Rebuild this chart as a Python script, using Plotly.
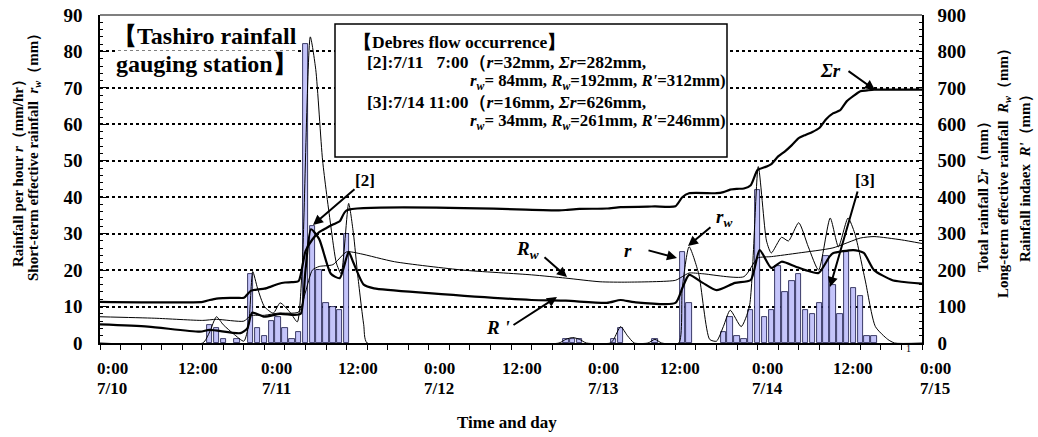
import plotly.graph_objects as go

# ---------------- data ----------------
# hourly rainfall r (mm/hr); x = hours after 7/10 0:00
bar_hours = [16, 17, 18, 20, 22, 23, 24, 25, 26, 27, 28, 29, 30, 31, 32, 33, 34, 35, 36,
             68, 69, 70, 75, 76, 81, 85, 86,
             91, 92, 93, 94, 95, 96, 97, 98, 99, 100, 101, 102, 103, 104, 105, 106, 107,
             108, 109, 110, 111, 112, 113]
bar_vals = [5, 4, 1, 1, 19, 4, 2, 6, 7, 4, 1, 3, 82, 32, 20, 11, 10, 9, 30,
            1, 1, 1, 1, 4, 1, 25, 11,
            3, 7, 2, 1, 9, 42, 7, 9, 21, 14, 17, 19, 9, 8, 11, 24, 16,
            8, 25, 15, 13, 2, 2]

# short-term effective rainfall r_w (left axis, mm)
rw_t = [0, 15, 16, 17, 18, 19.5, 21, 21.7, 22.3, 23, 24, 25.3, 26.3, 27.8, 28.8, 29.5, 30.7,
        31.5, 32.5, 33.7, 34.5, 35.2, 36.3, 37, 37.6, 38.5, 39, 67, 68, 69, 70, 71, 74.5, 75,
        76, 77, 78, 80, 81, 82, 84.5, 85, 86, 87.4, 89, 90, 91, 92, 93.6, 94.8, 96.1, 97.3,
        98, 99.5, 100.5, 102, 103.4, 104.9, 106.6, 107.8, 109.2, 110.2, 111.7, 113.2, 115,
        116, 120]
rw_v = [0, 0, 3, 7.2, 5, 2.5, 0.5, 5, 19.6, 15, 10, 8.2, 11, 8.3, 5.8, 20, 84,
        75, 50, 32, 22, 19, 38.3, 30, 19, 5, 0, 0, 1, 1.5, 1, 0, 0, 1,
        4.5, 2, 0, 0, 1, 0, 0, 15, 26.4, 19, 1, 0.5, 4.5, 9, 4.5, 10, 48.4, 28,
        24.7, 29, 28, 33, 26.4, 20, 34.3, 26.4, 34.3, 30, 17.3, 4.5, 1,
        0, 0]

# total rainfall Σr (right axis, mm)
sr_t = [0, 15, 16, 17, 18, 20, 21, 22, 23, 24, 25, 26, 27, 28, 29, 30, 31, 32, 33, 34, 35, 36,
        67, 68, 70, 74, 76, 80, 81, 84, 85, 86, 90, 91, 92, 93, 94, 95, 96, 97, 98, 99, 100,
        101, 102, 103, 104, 105, 106, 107, 108, 109, 110, 111, 112, 113, 120]
sr_v = [113, 113, 118, 122, 123, 124, 124, 143, 147, 149, 155, 162, 166, 167, 170, 252, 284,
        304, 315, 325, 334, 364, 364, 365, 368, 369, 373, 374, 375, 375, 400, 411, 411, 414,
        421, 423, 424, 433, 475, 482, 491, 512, 526, 543, 562, 571, 579, 590, 614, 630, 638,
        663, 678, 691, 693, 695, 695]

# long-term effective rainfall R_w (right axis, mm)
Rw_t = [0, 8, 15, 17, 21, 22, 24, 26, 29, 30, 31, 32, 34, 36, 38, 43, 53, 63, 68, 73, 77, 84,
        85, 86, 88, 94, 96, 98, 102, 107, 111, 113, 117, 120]
Rw_v = [72, 68, 62, 65, 60, 75, 76, 82, 85, 140, 200, 210, 215, 250, 245, 223, 200, 187, 178,
        168, 167, 172, 182, 192, 190, 182, 233, 237, 247, 261, 288, 292, 283, 273]

# rainfall index R' (right axis, mm)
Rp_t = [0, 7, 14.6, 16, 20.5, 21.5, 22.2, 24, 26.3, 28.3, 29.3, 30, 30.8, 32, 33.7, 35, 36.3,
        37, 38.5, 40, 48, 63, 68, 74, 76, 78, 84, 85, 86, 88, 90, 92.7, 95, 96.3, 98, 99.5,
        101.5, 103, 104.9, 106.5, 107, 110, 111.5, 113, 115.6, 117, 120]
Rp_v = [51, 45, 31, 36, 27, 40, 83, 72, 80, 77, 80, 200, 312, 285, 190, 178, 250,
        220, 160, 150, 137, 118, 116, 110, 118, 112, 110, 150, 187, 165, 145, 165, 173, 255,
        206, 223, 210, 200, 192, 237, 246, 255, 247, 200, 173, 168, 163]

x_top_labels = ["0:00", "12:00", "0:00", "12:00", "0:00", "12:00", "0:00", "12:00", "0:00", "12:00", "0:00"]
x_date_labels = ["7/10", "", "7/11", "", "7/12", "", "7/13", "", "7/14", "", "7/15"]
x_label_px = [112, 198, 276, 358, 439, 522, 603, 680, 767, 853, 935]

# ---------------- layout geometry ----------------
W, H = 1038, 437
L, R, T, B = 100, 116, 15, 94
PW, PH = W - L - R, H - T - B
SERIF = "Liberation Serif, Times New Roman, serif"


def px(x):
    return (x - L) / PW


def py(y):
    return 1 - (y - T) / PH


fig = go.Figure()
fig.add_trace(go.Bar(x=bar_hours, y=bar_vals, width=0.8,
                     marker=dict(color="#c4c4fa", line=dict(color="#101040", width=0.8)),
                     yaxis="y", showlegend=False))
fig.add_trace(go.Scatter(x=rw_t, y=rw_v, mode="lines", yaxis="y",
                         line=dict(color="black", width=1, shape="spline", smoothing=0.6),
                         showlegend=False))
fig.add_trace(go.Scatter(x=sr_t, y=sr_v, mode="lines", yaxis="y2",
                         line=dict(color="black", width=2.2, shape="spline", smoothing=0.6),
                         showlegend=False))
fig.add_trace(go.Scatter(x=Rw_t, y=Rw_v, mode="lines", yaxis="y2",
                         line=dict(color="black", width=1, shape="spline", smoothing=0.6),
                         showlegend=False))
fig.add_trace(go.Scatter(x=Rp_t, y=Rp_v, mode="lines", yaxis="y2",
                         line=dict(color="black", width=2.2, shape="spline", smoothing=0.6),
                         showlegend=False))

tickfont = dict(family=SERIF, size=19, color="black", weight="bold")

fig.update_layout(
    width=W, height=H,
    margin=dict(l=L, r=R, t=T, b=B, pad=0, autoexpand=False),
    paper_bgcolor="white", plot_bgcolor="white",
    bargap=0, hovermode=False,
    xaxis=dict(range=[0, 120], tick0=0, dtick=3, ticks="outside", ticklen=5, tickwidth=1,
               tickcolor="black", showticklabels=False, showline=True, linecolor="black",
               linewidth=1.5, showgrid=False, zeroline=False, automargin=False),
    yaxis=dict(range=[0, 90], tick0=0, dtick=10, ticks="inside", ticklen=6, tickcolor="black",
               showline=True, linecolor="black", linewidth=1.5, showgrid=True,
               gridcolor="black", griddash="dot", gridwidth=1.6, zeroline=False,
               tickfont=tickfont, ticklabelstandoff=12, automargin=False,
               minor=dict(dtick=2, ticks="inside", ticklen=3, tickcolor="black", showgrid=False)),
    yaxis2=dict(range=[0, 900], tick0=0, dtick=100, overlaying="y", side="right",
                ticks="inside", ticklen=6, tickcolor="black", showline=True, linecolor="black",
                linewidth=1.5, showgrid=False, zeroline=False, tickfont=tickfont,
                ticklabelstandoff=10, automargin=False,
                minor=dict(dtick=20, ticks="inside", ticklen=3, tickcolor="black", showgrid=False)),
)

shapes = [
    dict(type="line", xref="paper", yref="paper", x0=0, x1=1, y0=1, y1=1,
         line=dict(color="#555555", width=1.5)),
    dict(type="rect", xref="paper", yref="paper", x0=px(335), x1=px(727), y0=py(157), y1=py(24),
         fillcolor="white", line=dict(color="black", width=1.5), layer="above"),
]
fig.update_layout(shapes=shapes)

ann = []


def txt(x, y, text, size=16, xanchor="center", align="center", angle=0, bg=None):
    d = dict(xref="paper", yref="paper", x=px(x), y=py(y), text=text, showarrow=False,
             xanchor=xanchor, yanchor="middle", align=align, textangle=angle,
             font=dict(family=SERIF, size=size, color="black", weight="bold"))
    if bg:
        d["bgcolor"] = bg
        d["borderpad"] = 0
    ann.append(d)


def arrow(x0, y0, x1, y1):
    ann.append(dict(xref="paper", yref="paper", x=px(x1), y=py(y1), ax=x0 - x1, ay=y0 - y1,
                    axref="pixel", ayref="pixel", text="", showarrow=True, arrowhead=2,
                    arrowsize=1, arrowwidth=2, arrowcolor="black"))


# x tick labels
for xp, t1, t2 in zip(x_label_px, x_top_labels, x_date_labels):
    txt(xp, 368, t1, size=17)
    if t2:
        txt(xp, 389, t2, size=17)
ann.append(dict(xref="paper", yref="paper", x=px(913), y=py(356), text="1", showarrow=False,
                font=dict(family=SERIF, size=10, color="black")))
txt(507, 422, "Time and day", size=17)

# axis titles
txt(18, 170, "Rainfall per hour <i>r</i>（mm/hr）", size=15, angle=-90)
txt(34, 154, "Short-term effective rainfall  <i>r<sub>w</sub></i>（mm）", size=15, angle=-90)
txt(983, 193, "Total rainfall <i>Σr</i>（mm）", size=15, angle=-90)
txt(1004, 170, "Long-term effective rainfall  <i>R<sub>w</sub></i>（mm）", size=15, angle=-90)
txt(1025, 175, "Rainfall indaex  <i>R'</i>（mm）", size=15, angle=-90)

# station title
txt(298, 36, "【Tashiro rainfall", size=24, xanchor="right", bg="white")
txt(298, 64, "gauging station】", size=24, xanchor="right", bg="white")

# box text
txt(352, 42, "【Debres flow occurrence】", size=17.5, xanchor="left", align="left")
txt(365, 62, "[2]:7/11   7:00（<i>r</i>=32mm, <i>Σr</i>=282mm,", size=17.5, xanchor="left")
txt(468, 82, "<i>r<sub>w</sub></i>= 84mm, <i>R<sub>w</sub></i>=192mm, <i>R'</i>=312mm)", size=16.8, xanchor="left")
txt(365, 102, "[3]:7/14 11:00（<i>r</i>=16mm, <i>Σr</i>=626mm,", size=17.5, xanchor="left")
txt(468, 122, "<i>r<sub>w</sub></i>= 34mm, <i>R<sub>w</sub></i>=261mm, <i>R'</i>=246mm)", size=16.8, xanchor="left")

# series labels & arrows
txt(830, 70, "<i>Σr</i>", size=19)
arrow(847, 70, 875, 90)
txt(365, 180, "[2]", size=17)
arrow(356, 188, 313, 225)
txt(724, 218, "<i>r<sub>w</sub></i>", size=19)
arrow(712, 226, 688, 246)
txt(628, 250, "<i>r</i>", size=19)
arrow(647, 250, 677, 258)
txt(527, 250, "<i>R<sub>w</sub></i>", size=19)
arrow(543, 256, 567, 277)
txt(498, 327, "<i>R '</i>", size=19)
arrow(512, 326, 557, 297)
txt(865, 180, "[3]", size=17)
arrow(858, 190, 830, 287)

fig.update_layout(annotations=ann)
fig.write_html("out.html", config={"displayModeBar": False},
               post_script="document.body.style.margin='0';")
